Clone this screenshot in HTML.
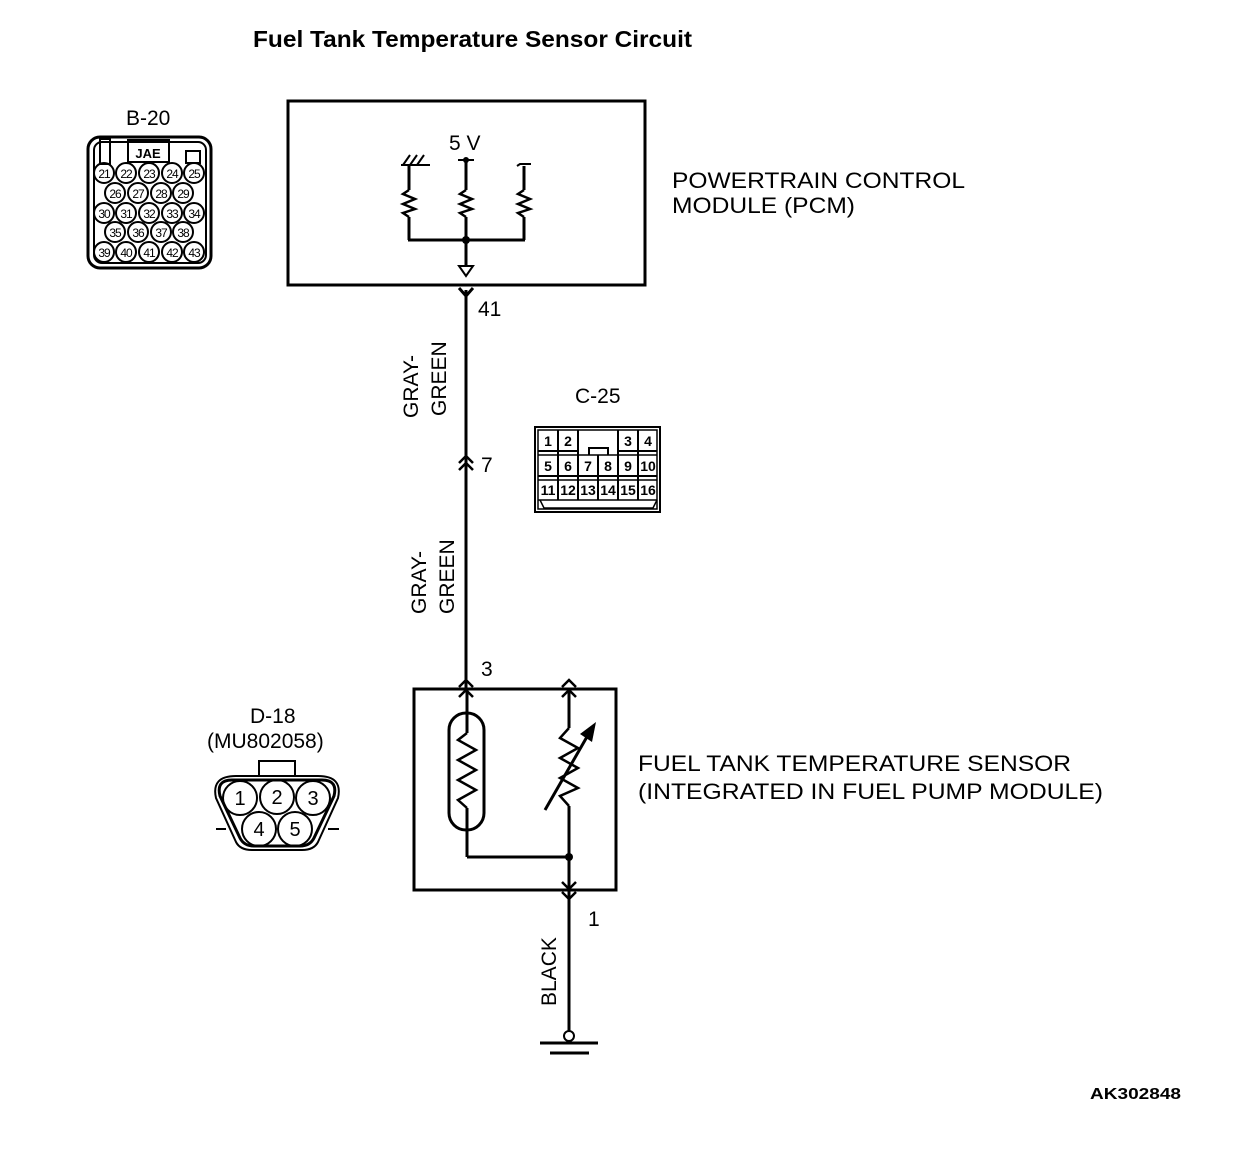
<!DOCTYPE html>
<html><head><meta charset="utf-8"><style>
html,body{margin:0;padding:0;background:#fff}
svg{display:block}
text{font-family:"Liberation Sans",Arial,sans-serif;fill:#000}
</style></head><body>
<svg width="1248" height="1152" viewBox="0 0 1248 1152" xmlns="http://www.w3.org/2000/svg">
<g fill="none" stroke="#000" stroke-width="3">
<rect x="288" y="101" width="357" height="184" stroke-width="3"/>
<line x1="466" y1="160" x2="466" y2="190"/>
<polyline points="466,190 460,194 472,199 460,204 472,209 460,213 466,217" stroke-width="2.5"/>
<line x1="466" y1="217" x2="466" y2="265"/>
<line x1="458" y1="160" x2="474" y2="160" stroke-width="2"/>
<line x1="409" y1="165" x2="409" y2="190"/>
<polyline points="409,190 403,194 415,199 403,204 415,209 403,213 409,217" stroke-width="2.5"/>
<line x1="409" y1="217" x2="409" y2="240"/>
<line x1="401" y1="165" x2="430" y2="165" stroke-width="2"/>
<line x1="403" y1="165" x2="410" y2="155" stroke-width="2"/>
<line x1="410" y1="165" x2="417" y2="155" stroke-width="2"/>
<line x1="417" y1="165" x2="424" y2="155" stroke-width="2"/>
<line x1="524" y1="166" x2="524" y2="190"/>
<polyline points="524,190 518,194 530,199 518,204 530,209 518,213 524,217" stroke-width="2.5"/>
<line x1="524" y1="217" x2="524" y2="240"/>
<polyline points="517,166 520,164 531,164" stroke-width="2"/>
<line x1="408" y1="240" x2="525" y2="240"/>
<polygon points="459,266 473,266 466,276" stroke-width="2"/>
<line x1="466" y1="290" x2="466" y2="689"/>
<polyline points="459,288 466,296 473,288"/>
<polyline points="459,463 466,456 473,463" stroke-width="2.5"/>
<polyline points="459,470 466,463 473,470" stroke-width="2.5"/>
<rect x="414" y="689" width="202" height="201"/>
<polyline points="459,687 466,680 473,687" stroke-width="2.5"/>
<polyline points="459,697 466,690 473,697" stroke-width="2.5"/>
<polyline points="562,687 569,680 576,687" stroke-width="2.5"/>
<polyline points="562,697 569,690 576,697" stroke-width="2.5"/>
<rect x="449" y="713" width="35" height="117" rx="17"/>
<line x1="467" y1="690" x2="467" y2="733"/>
<polyline points="467,733 458,740 476,750 458,760 476,770 458,780 476,790 458,800 467,808" stroke-width="2.5"/>
<line x1="467" y1="808" x2="467" y2="857"/>
<line x1="467" y1="857" x2="569" y2="857"/>
<line x1="569" y1="690" x2="569" y2="728"/>
<polyline points="569,728 560,738 578,748 560,758 578,768 560,778 578,788 560,796 569,806" stroke-width="2.5"/>
<line x1="569" y1="806" x2="569" y2="1031"/>
<line x1="545" y1="810" x2="588" y2="735"/>
<polyline points="562,882 569,889 576,882" stroke-width="2.5"/>
<polyline points="562,892 569,899 576,892" stroke-width="2.5"/>
<circle cx="569" cy="1036" r="5" stroke-width="2"/>
<line x1="540" y1="1043" x2="598" y2="1043"/>
<line x1="550" y1="1053" x2="589" y2="1053"/>
<rect x="88" y="137" width="123" height="131" rx="12"/>
<rect x="94" y="142" width="112" height="121" rx="8" stroke-width="2"/>
<rect x="100" y="139" width="10" height="25" stroke-width="2"/>
<rect x="128" y="140" width="41" height="22" stroke-width="2"/>
<rect x="186" y="151" width="14" height="12" stroke-width="2"/>
<g stroke-width="2">
<circle cx="104" cy="173" r="10"/><circle cx="126" cy="173" r="10"/><circle cx="149" cy="173" r="10"/><circle cx="172" cy="173" r="10"/><circle cx="194" cy="173" r="10"/>
<circle cx="115" cy="193" r="10"/><circle cx="138" cy="193" r="10"/><circle cx="161" cy="193" r="10"/><circle cx="183" cy="193" r="10"/>
<circle cx="104" cy="213" r="10"/><circle cx="126" cy="213" r="10"/><circle cx="149" cy="213" r="10"/><circle cx="172" cy="213" r="10"/><circle cx="194" cy="213" r="10"/>
<circle cx="115" cy="232" r="10"/><circle cx="138" cy="232" r="10"/><circle cx="161" cy="232" r="10"/><circle cx="183" cy="232" r="10"/>
<circle cx="104" cy="252" r="10"/><circle cx="126" cy="252" r="10"/><circle cx="149" cy="252" r="10"/><circle cx="172" cy="252" r="10"/><circle cx="194" cy="252" r="10"/>
</g>
<g stroke-width="2">
<rect x="535" y="427" width="125" height="85"/>
<rect x="538" y="430" width="119" height="79" stroke-width="1.5"/>
<line x1="538" y1="451" x2="578" y2="451"/><line x1="618" y1="451" x2="657" y2="451"/>
<line x1="538" y1="455" x2="657" y2="455" stroke-width="1.5"/>
<line x1="538" y1="476" x2="657" y2="476"/>
<line x1="538" y1="480" x2="657" y2="480" stroke-width="1.5"/>
<line x1="538" y1="500" x2="657" y2="500" stroke-width="1.5"/>
<line x1="558" y1="430" x2="558" y2="500"/><line x1="578" y1="430" x2="578" y2="500"/>
<line x1="598" y1="455" x2="598" y2="500"/><line x1="618" y1="430" x2="618" y2="500"/>
<line x1="638" y1="430" x2="638" y2="500"/>
<polyline points="589,455 589,448 608,448 608,455"/>
<polyline points="540,500 544,508 653,508 657,500" stroke-width="1.5"/>
</g>
<path d="M232,780 L322,780 Q338,780 334,796 L314,838 Q310,846 300,846 L254,846 Q244,846 240,838 L220,796 Q216,780 232,780 Z"/>
<path d="M236,776 L318,776 Q343,776 338,798 L318,842 Q314,850 302,850 L252,850 Q240,850 236,842 L216,798 Q211,776 236,776 Z" stroke-width="2"/>
<rect x="259" y="761" width="36" height="15" stroke-width="2"/>
<line x1="216" y1="829" x2="226" y2="829" stroke-width="2"/>
<line x1="328" y1="829" x2="339" y2="829" stroke-width="2"/>
<g stroke-width="2">
<circle cx="240" cy="798" r="17"/><circle cx="277" cy="797" r="17"/><circle cx="313" cy="798" r="17"/>
<circle cx="259" cy="829" r="17"/><circle cx="295" cy="829" r="17"/>
</g>
</g>
<g fill="#000">
<circle cx="466" cy="160" r="3"/>
<circle cx="466" cy="240" r="4"/>
<circle cx="569" cy="857" r="4"/>
<polygon points="596,722 580,734 592,742"/>
</g>
<text x="253" y="47" font-size="23" font-weight="bold" textLength="439" lengthAdjust="spacingAndGlyphs">Fuel Tank Temperature Sensor Circuit</text>
<text x="126" y="125" font-size="21">B-20</text>
<text x="148" y="158" font-size="13" font-weight="bold" text-anchor="middle">JAE</text>
<g font-size="12" text-anchor="middle" letter-spacing="-1">
<text x="104" y="178">21</text><text x="126" y="178">22</text><text x="149" y="178">23</text><text x="172" y="178">24</text><text x="194" y="178">25</text>
<text x="115" y="198">26</text><text x="138" y="198">27</text><text x="161" y="198">28</text><text x="183" y="198">29</text>
<text x="104" y="218">30</text><text x="126" y="218">31</text><text x="149" y="218">32</text><text x="172" y="218">33</text><text x="194" y="218">34</text>
<text x="115" y="237">35</text><text x="138" y="237">36</text><text x="161" y="237">37</text><text x="183" y="237">38</text>
<text x="104" y="257">39</text><text x="126" y="257">40</text><text x="149" y="257">41</text><text x="172" y="257">42</text><text x="194" y="257">43</text>
</g>
<text x="449" y="150" font-size="21">5 V</text>
<text x="672" y="188" font-size="22" textLength="293" lengthAdjust="spacingAndGlyphs">POWERTRAIN CONTROL</text>
<text x="672" y="213" font-size="22" textLength="183" lengthAdjust="spacingAndGlyphs">MODULE (PCM)</text>
<text x="478" y="316" font-size="21">41</text>
<text x="481" y="472" font-size="21">7</text>
<text x="481" y="676" font-size="21">3</text>
<text x="588" y="926" font-size="21">1</text>
<text x="575" y="403" font-size="21">C-25</text>
<g font-size="14" font-weight="bold" text-anchor="middle">
<text x="548" y="446">1</text><text x="568" y="446">2</text><text x="628" y="446">3</text><text x="648" y="446">4</text>
<text x="548" y="471">5</text><text x="568" y="471">6</text><text x="588" y="471">7</text><text x="608" y="471">8</text><text x="628" y="471">9</text><text x="648" y="471">10</text>
<text x="548" y="495">11</text><text x="568" y="495">12</text><text x="588" y="495">13</text><text x="608" y="495">14</text><text x="628" y="495">15</text><text x="648" y="495">16</text>
</g>
<text transform="translate(418,418) rotate(-90)" font-size="21">GRAY-</text>
<text transform="translate(446,416) rotate(-90)" font-size="21">GREEN</text>
<text transform="translate(426,614) rotate(-90)" font-size="21">GRAY-</text>
<text transform="translate(454,614) rotate(-90)" font-size="21">GREEN</text>
<text transform="translate(556,1006) rotate(-90)" font-size="21">BLACK</text>
<text x="250" y="723" font-size="21">D-18</text>
<text x="207" y="748" font-size="21">(MU802058)</text>
<g font-size="20" text-anchor="middle">
<text x="240" y="805">1</text><text x="277" y="804">2</text><text x="313" y="805">3</text>
<text x="259" y="836">4</text><text x="295" y="836">5</text>
</g>
<text x="638" y="771" font-size="22" textLength="433" lengthAdjust="spacingAndGlyphs">FUEL TANK TEMPERATURE SENSOR</text>
<text x="638" y="799" font-size="22" textLength="465" lengthAdjust="spacingAndGlyphs">(INTEGRATED IN FUEL PUMP MODULE)</text>
<text x="1090" y="1099" font-size="16" font-weight="bold" textLength="91" lengthAdjust="spacingAndGlyphs">AK302848</text>
</svg>
</body></html>
